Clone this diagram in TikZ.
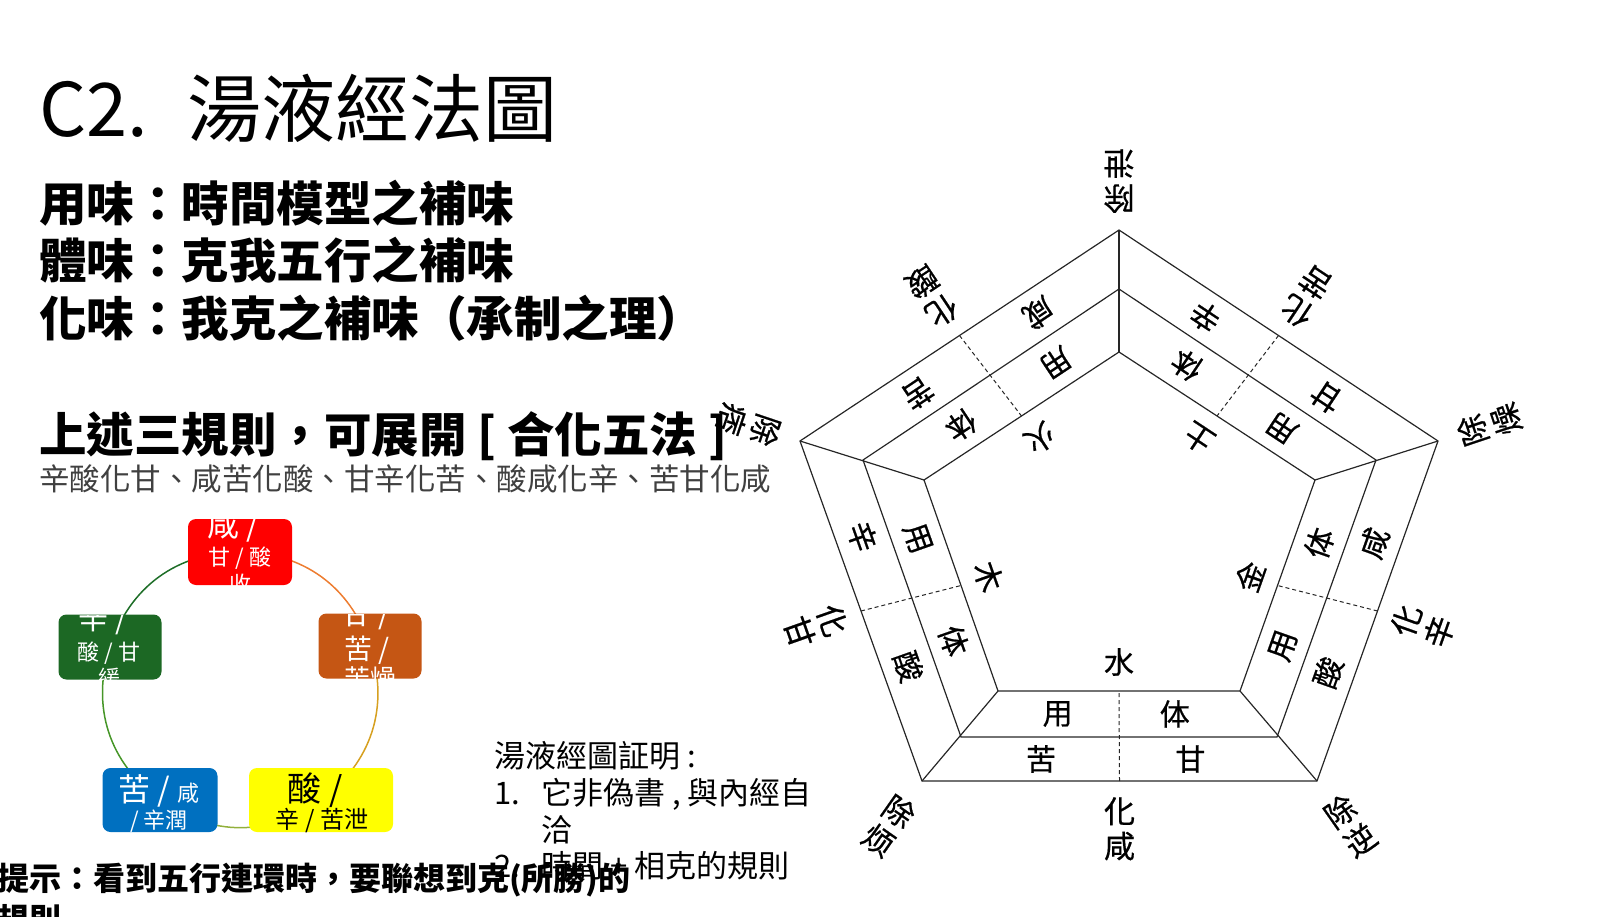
\documentclass[tikz,border=0pt]{standalone}
\usepackage{fontspec}
\setmainfont{Noto Sans CJK TC}
\newfontfamily\pentfont[FakeBold=0.6]{Noto Sans CJK JP}
\usetikzlibrary{calc}
\pgfdeclarelayer{back}
\pgfsetlayers{back,main}
\definecolor{boxred}{RGB}{255,0,0}
\definecolor{boxorange}{RGB}{197,86,20}
\definecolor{boxgreen}{RGB}{28,104,36}
\definecolor{boxblue}{RGB}{0,112,192}
\definecolor{boxyellow}{RGB}{255,255,0}
\definecolor{arcRO}{RGB}{237,125,49}
\definecolor{arcOY}{RGB}{214,160,32}
\definecolor{arcYB}{RGB}{146,176,60}
\definecolor{arcBG}{RGB}{70,150,40}
\definecolor{arcGR}{RGB}{30,110,40}
\tikzset{band/.style={line width=1.2pt,black!85}}
\tikzset{divide/.style={line width=1pt,black!85,dash pattern=on 4pt off 3pt}}
\tikzset{cell/.style={inner sep=0pt,font=\pentfont\fontsize{30}{30}\selectfont}}
\tikzset{outlabel/.style={inner sep=0pt,anchor=north,align=center,font=\pentfont\fontsize{31}{35}\selectfont}}
\tikzset{rule/.style={inner sep=0pt,anchor=base west,font=\bfseries\fontsize{47.5}{47.5}\selectfont}}
\tikzset{proof/.style={inner sep=0pt,anchor=base west,font=\fontsize{31}{31}\selectfont}}
\tikzset{tastebox/.style={rounded corners=8pt,inner sep=0pt}}
\tikzset{boxline/.style={inner sep=0pt,anchor=base,white}}
\tikzset{ring/.style={line width=1.5pt}}

\begin{document}
\begin{tikzpicture}[x=1pt,y=-1pt]
\useasboundingbox (0,0) rectangle (1600,917);

\node[inner sep=0pt,anchor=base west,font=\fontsize{74}{74}\selectfont] (title) at (39,137) {C2.};
\node[inner sep=0pt,anchor=base west,font=\fontsize{74}{74}\selectfont] (titlename) at (187,137) {湯液經法圖};
\node[rule] (yongwei) at (39,222) {用味：時間模型之補味};
\node[rule] (tiwei) at (39,279) {體味：克我五行之補味};
\node[rule] (huawei) at (39,336) {化味：我克之補味（承制之理）};
\node[rule] (heading) at (39,452) {上述三規則，可展開 [ 合化五法 ]};
\node[inner sep=0pt,anchor=base west,black!75,font=\fontsize{30.5}{30.5}\selectfont] (fivelaw) at (39,490) {辛酸化甘、咸苦化酸、甘辛化苦、酸咸化辛、苦甘化咸};

% taste circle
\node[tastebox,fill=boxred,minimum width=104pt,minimum height=66pt] (red) at (240,552) {};
\node[tastebox,fill=boxorange,minimum width=103pt,minimum height=65pt] (orange) at (370,646) {};
\node[tastebox,fill=boxyellow,minimum width=144pt,minimum height=64pt] (yellow) at (321,800) {};
\node[tastebox,fill=boxblue,minimum width=115pt,minimum height=64pt] (blue) at (160,800) {};
\node[tastebox,fill=boxgreen,minimum width=103pt,minimum height=65pt] (green) at (110,647) {};
\begin{pgfonlayer}{back}
\draw[ring,arcRO] (red.center) to[bend left=36] (orange.center);
\draw[ring,arcOY] (orange.center) to[bend left=36] (yellow.center);
\draw[ring,arcYB] (yellow.center) to[bend left=36] (blue.center);
\draw[ring,arcBG] (blue.center) to[bend left=36] (green.center);
\draw[ring,arcGR] (green.center) to[bend left=36] (red.center);
\end{pgfonlayer}

\begin{scope}
\clip[rounded corners=8pt] (red.north west) rectangle (red.south east);
\node[boxline,font=\fontsize{32}{32}\selectfont] (redA) at (233,536) {咸 /};
\node[boxline,font=\fontsize{22}{22}\selectfont] (redB) at (240,565) {甘 / 酸};
\node[boxline,font=\fontsize{22}{22}\selectfont] (redC) at (240,592) {收};
\end{scope}
\begin{scope}
\clip[rounded corners=8pt] (orange.north west) rectangle (orange.south east);
\node[boxline,font=\fontsize{30}{30}\selectfont] (orangeA) at (366,624) {甘 /};
\node[boxline,font=\fontsize{28}{28}\selectfont] (orangeB) at (367,659) {苦 /};
\node[boxline,font=\fontsize{26}{26}\selectfont] (orangeC) at (370,688) {苦燥};
\end{scope}
\begin{scope}
\clip[rounded corners=8pt] (green.north west) rectangle (green.south east);
\node[boxline,font=\fontsize{30}{30}\selectfont] (greenA) at (103,629) {辛 /};
\node[boxline,font=\fontsize{22}{22}\selectfont] (greenB) at (109,660) {酸 / 甘};
\node[boxline,font=\fontsize{22}{22}\selectfont] (greenC) at (109,686) {緩};
\end{scope}
\begin{scope}
\clip[rounded corners=8pt] (blue.north west) rectangle (blue.south east);
\node[boxline,font=\fontsize{32}{32}\selectfont] (blueA) at (159,801) {苦 / {\fontsize{22}{22}\selectfont 咸}};
\node[boxline,font=\fontsize{22}{22}\selectfont] (blueB) at (159,828) {/ 辛潤};
\end{scope}
\begin{scope}
\clip[rounded corners=8pt] (yellow.north west) rectangle (yellow.south east);
\node[boxline,black,font=\fontsize{34}{34}\selectfont] (yellowA) at (315,801) {酸 /};
\node[boxline,black,font=\fontsize{24}{24}\selectfont] (yellowB) at (322,828) {辛 / 苦泄};
\end{scope}

\node[proof] (proofhead) at (494,767) {湯液經圖証明 :};
\node[proof] (itemone) at (494,804) {1.};
\node[proof] (itemonetext) at (541,804) {它非偽書 , 與內經自};
\node[proof] (itemonemore) at (541,841) {洽};
\node[proof] (itemtwo) at (494,877) {2.};
\node[proof] (itemtwotext) at (541,877) {時間 + 相克的規則};
\node[inner sep=0pt,anchor=base west,font=\bfseries\fontsize{32}{32}\selectfont] (hint) at (-3,890) {提示：看到五行連環時，要聯想到克(所勝)的};
\node[inner sep=0pt,anchor=base west,font=\bfseries\fontsize{32}{32}\selectfont] (hintmore) at (-3,931) {規則};

% pentagon
\coordinate (C) at (1119,534);
\coordinate (O1) at (1119,230);
\coordinate (O2) at (1438,441);
\coordinate (O3) at (1317,781);
\coordinate (O4) at (922,781);
\coordinate (O5) at (800,441);
\coordinate (M1) at (1119,289);
\coordinate (M2) at (1376,460);
\coordinate (M3) at (1277,737);
\coordinate (M4) at (961,737);
\coordinate (M5) at (863,460);
\coordinate (I1) at (1119,352);
\coordinate (I2) at (1315,480);
\coordinate (I3) at (1240,691);
\coordinate (I4) at (998,691);
\coordinate (I5) at (924,480);
\coordinate (P1) at ($(O1)!0.5!(M1)$);
\coordinate (P2) at ($(O2)!0.5!(M2)$);
\coordinate (P3) at ($(O3)!0.5!(M3)$);
\coordinate (P4) at ($(O4)!0.5!(M4)$);
\coordinate (P5) at ($(O5)!0.5!(M5)$);
\coordinate (Q1) at ($(M1)!0.5!(I1)$);
\coordinate (Q2) at ($(M2)!0.5!(I2)$);
\coordinate (Q3) at ($(M3)!0.5!(I3)$);
\coordinate (Q4) at ($(M4)!0.5!(I4)$);
\coordinate (Q5) at ($(M5)!0.5!(I5)$);

\draw[band] (O1) -- (O2) -- (O3) -- (O4) -- (O5) -- cycle;
\draw[band] (M1) -- (M2) -- (M3) -- (M4) -- (M5) -- cycle;
\draw[band] (I1) -- (I2) -- (I3) -- (I4) -- (I5) -- cycle;
\draw[band] (O1) -- (I1);
\draw[band] (O2) -- (I2);
\draw[band] (O3) -- (I3);
\draw[band] (O4) -- (I4);
\draw[band] (O5) -- (I5);
\draw[divide] ($(O1)!0.5!(O2)$) -- ($(I1)!0.5!(I2)$);
\draw[divide] ($(O2)!0.5!(O3)$) -- ($(I2)!0.5!(I3)$);
\draw[divide] ($(O3)!0.5!(O4)$) -- ($(I3)!0.5!(I4)$);
\draw[divide] ($(O4)!0.5!(O5)$) -- ($(I4)!0.5!(I5)$);
\draw[divide] ($(O5)!0.5!(O1)$) -- ($(I5)!0.5!(I1)$);

% earth side
\node[cell,rotate=146.4] (tuA) at ($(P1)!0.3!(P2)$) {辛};
\node[cell,rotate=146.4] (tuB) at ($(P1)!0.72!(P2)$) {甘};
\node[cell,rotate=146.4] (tuC) at ($(Q1)!0.3!(Q2)$) {体};
\node[cell,rotate=146.4] (tuD) at ($(Q1)!0.72!(Q2)$) {用};
\node[cell,rotate=146.4] (tu) at ($(I1)!0.5!(I2)!29pt!(C)$) {土};
\node[outlabel,rotate=146.4] (huaku) at ($(O1)!0.5!(O2)!-16pt!(C)$) {化\\苦};
% metal side
\node[cell,rotate=70.5] (jinA) at ($(P2)!0.3!(P3)$) {咸};
\node[cell,rotate=70.5] (jinB) at ($(P2)!0.72!(P3)$) {酸};
\node[cell,rotate=70.5] (jinC) at ($(Q2)!0.3!(Q3)$) {体};
\node[cell,rotate=70.5] (jinD) at ($(Q2)!0.72!(Q3)$) {用};
\node[cell,rotate=70.5] (jin) at ($(I2)!0.5!(I3)!29pt!(C)$) {金};
\node[outlabel,rotate=70.5] (huaxin) at ($(O2)!0.5!(O3)!-16pt!(C)$) {化\\辛};
% water side
\node[cell] (shuiA) at ($(P3)!0.3!(P4)$) {甘};
\node[cell] (shuiB) at ($(P3)!0.72!(P4)$) {苦};
\node[cell] (shuiC) at ($(Q3)!0.3!(Q4)$) {体};
\node[cell] (shuiD) at ($(Q3)!0.72!(Q4)$) {用};
\node[cell] (shui) at ($(I3)!0.5!(I4)!29pt!(C)$) {水};
\node[outlabel] (huaxian) at ($(O3)!0.5!(O4)!-16pt!(C)$) {化\\咸};
% wood side
\node[cell,rotate=-70.5] (muA) at ($(P4)!0.3!(P5)$) {酸};
\node[cell,rotate=-70.5] (muB) at ($(P4)!0.72!(P5)$) {辛};
\node[cell,rotate=-70.5] (muC) at ($(Q4)!0.3!(Q5)$) {体};
\node[cell,rotate=-70.5] (muD) at ($(Q4)!0.72!(Q5)$) {用};
\node[cell,rotate=-70.5] (mu) at ($(I4)!0.5!(I5)!29pt!(C)$) {木};
\node[outlabel,rotate=-70.5] (huagan) at ($(O4)!0.5!(O5)!-16pt!(C)$) {化\\甘};
% fire side
\node[cell,rotate=-146.4] (huoA) at ($(P5)!0.3!(P1)$) {苦};
\node[cell,rotate=-146.4] (huoB) at ($(P5)!0.72!(P1)$) {咸};
\node[cell,rotate=-146.4] (huoC) at ($(Q5)!0.3!(Q1)$) {体};
\node[cell,rotate=-146.4] (huoD) at ($(Q5)!0.72!(Q1)$) {用};
\node[cell,rotate=-146.4] (huo) at ($(I5)!0.5!(I1)!29pt!(C)$) {火};
\node[outlabel,rotate=-146.4] (huasuan) at ($(O5)!0.5!(O1)!-16pt!(C)$) {化\\酸};

% corners
\node[outlabel,rotate=180] (chuxie) at ($(O1)!-17pt!(C)$) {除\\泄};
\node[outlabel,rotate=108.5] (chuzao) at ($(O2)!-22pt!(C)$) {除\\燥};
\node[outlabel,rotate=35] (chuni) at ($(O3)!-24pt!(C)$) {除\\逆};
\node[outlabel,rotate=-35] (chufan) at ($(O4)!-24pt!(C)$) {除\\烦};
\node[outlabel,rotate=-108.5] (chupi) at ($(O5)!-22pt!(C)$) {除\\痞};
\end{tikzpicture}
\end{document}
